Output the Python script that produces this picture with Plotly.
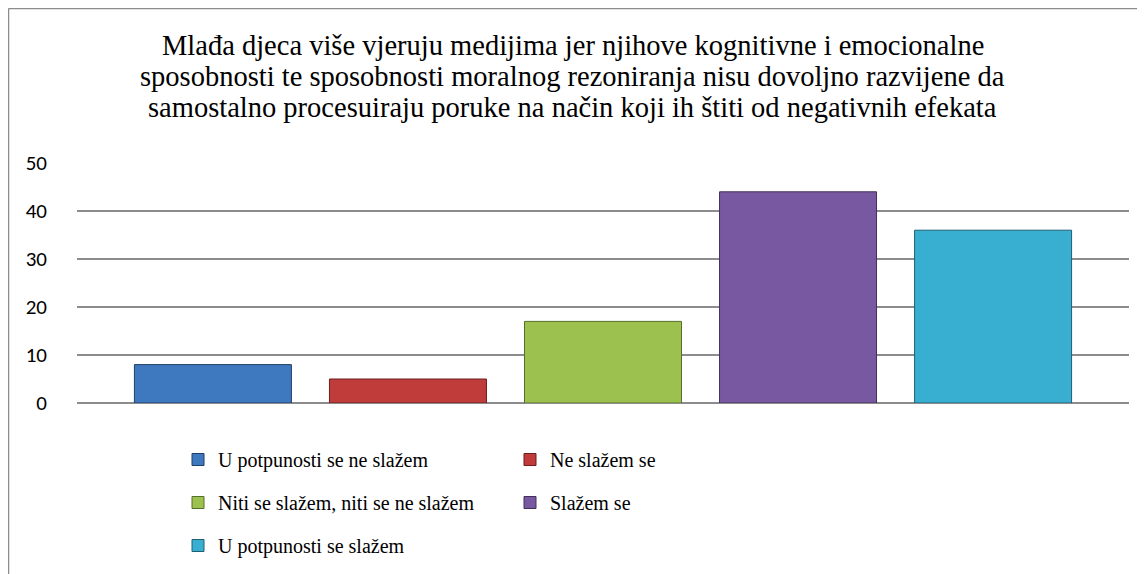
import plotly.graph_objects as go

categories = ["U potpunosti se ne slažem", "Ne slažem se",
              "Niti se slažem, niti se ne slažem", "Slažem se",
              "U potpunosti se slažem"]
values = [8, 5, 17, 44, 36]
colors = ["#3e78bf", "#c03c3a", "#9cc14f", "#7858a0", "#38aed0"]
edge_colors = ["#1f3f66", "#6a1f1e", "#56702a", "#40305a", "#1d6076"]
legend_ids = ["legend", "legend2", "legend", "legend2", "legend"]
y_ticks = [0, 10, 20, 30, 40, 50]
title_lines = ["Mlađa djeca više vjeruju medijima jer njihove kognitivne i emocionalne",
               "sposobnosti te sposobnosti moralnog rezoniranja nisu dovoljno razvijene da",
               "samostalno procesuiraju poruke na način koji ih štiti od negativnih efekata"]

W, H = 1145, 574
# figure-pixel geometry (page is offset by the 8px body margin)
L, R, T, B = 69, 1121, 155, 395


def px_x(p):
    return (p - L) / (R - L)


def px_y(p):
    return (B - p) / (B - T)


fig = go.Figure()
for i, (name, v) in enumerate(zip(categories, values)):
    fig.add_trace(go.Bar(
        x=["Q"], y=[v], name=name,
        marker=dict(color=colors[i], line=dict(color=edge_colors[i], width=1)),
        legend=legend_ids[i], legendgroup=name,
        hoverinfo="y+name",
    ))

serif = "Liberation Serif"
title_centers = [37.5, 69.0, 100.0]
annotations = [
    dict(text=t, xref="paper", yref="paper", x=px_x(W / 2 - 8), y=px_y(yc),
         xanchor="center", yanchor="middle", showarrow=False,
         font=dict(family=serif, size=28.5, color="black"))
    for t, yc in zip(title_lines, title_centers)
]

fig.update_layout(
    width=W, height=H,
    font=dict(family=serif),
    margin=dict(l=L, r=W - R, t=T, b=H - B, autoexpand=False),
    paper_bgcolor="white", plot_bgcolor="white",
    barmode="group", bargap=0.073, bargroupgap=0.195,
    annotations=annotations,
    xaxis=dict(showticklabels=False, showgrid=False, zeroline=False,
               showline=False, ticks=""),
    yaxis=dict(range=[0, 50], tickvals=y_ticks, showgrid=True,
               gridcolor="#8c8c8c", gridwidth=1.5,
               zeroline=True, zerolinecolor="#8c8c8c", zerolinewidth=1.5,
               showline=False, ticks="", ticklabelstandoff=29,
               tickfont=dict(family="Carlito, Lato, sans-serif", size=21, color="black")),
    legend=dict(orientation="v", x=px_x(170), xanchor="left",
                y=px_y(432), yanchor="top", tracegroupgap=14,
                font=dict(family=serif, size=20, color="black"),
                bgcolor="rgba(0,0,0,0)", itemclick=False),
    legend2=dict(orientation="v", x=px_x(502), xanchor="left",
                 y=px_y(432), yanchor="top", tracegroupgap=14,
                 font=dict(family=serif, size=20, color="black"),
                 bgcolor="rgba(0,0,0,0)", itemclick=False),
    shapes=[
        dict(type="line", xref="paper", yref="paper",
             x0=px_x(0.5), x1=px_x(1150), y0=px_y(0.5), y1=px_y(0.5),
             line=dict(color="#8c8c8c", width=1.5)),
        dict(type="line", xref="paper", yref="paper",
             x0=px_x(0.5), x1=px_x(0.5), y0=px_y(0.5), y1=px_y(580),
             line=dict(color="#8c8c8c", width=1.5)),
    ],
    showlegend=True,
)

fig.write_html("out.html")
